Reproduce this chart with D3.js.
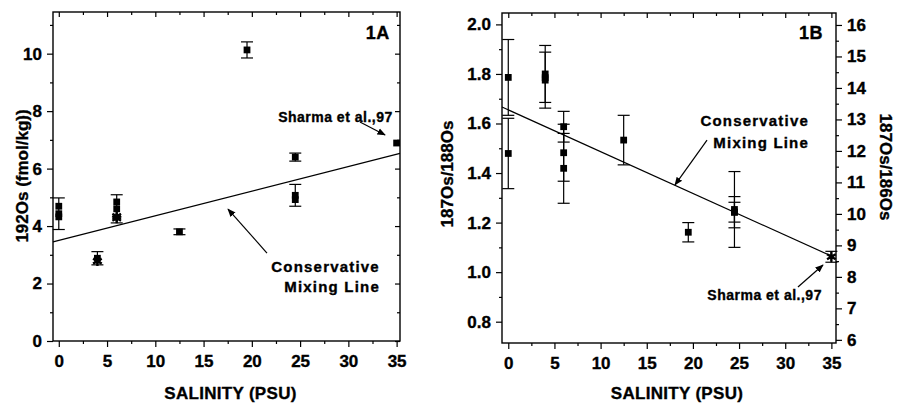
<!DOCTYPE html>
<html><head><meta charset="utf-8">
<script src="https://cdn.jsdelivr.net/npm/d3@7"></script>
<style>
body{margin:0;background:#fff;}
text{font-family:"Liberation Sans",Arial,sans-serif;font-weight:bold;fill:#000;stroke:#000;stroke-width:0.35px;}
</style></head>
<body><svg id="c" width="898" height="404"></svg>
<script>
// ---------- DATA ----------
// Panel 1A: 192Os (fmol/kg) vs salinity
const salinityA = [0, 0, 0, 4, 4, 6, 6, 6, 6, 12.5, 19.5, 24.5, 24.5, 24.5, 35];
const os192A    = [4.69, 4.43, 4.32, 2.88, 2.78, 4.84, 4.6, 4.34, 4.27, 3.8, 10.13, 6.4, 5.07, 4.92, 6.89];
const errA      = [0, 0.55, 0, 0.23, 0, 0, 0.49, 0, 0, 0.1, 0.28, 0.14, 0.38, 0, 0];
const shapeA    = ["sq","sq","sq","sq","st","sq","sq","st","st","sq","sq","sq","sq","sq","sq"];
const mixLineA  = [[0, 3.5], [35, 6.5]];

// Panel 1B: 187Os/188Os vs salinity
const salinityB = [0, 0, 4, 4, 4, 6, 6, 6, 12.5, 19.5, 24.5, 24.5, 24.5, 35];
const ratioB    = [1.786, 1.479, 1.80, 1.785, 1.775, 1.587, 1.482, 1.419, 1.533, 1.161, 1.253, 1.242, 1.242, 1.062];
const errB      = [0.153, 0.142, 0.115, 0, 0.113, 0.062, 0.115, 0.141, 0.1, 0.039, 0.153, 0.063, 0.04, 0.022];
const shapeB    = ["sq","sq","sq","sq","sq","sq","sq","sq","sq","sq","sq","sq","sq","st"];
const mixLineB  = [[0, 1.655], [35, 1.065]];

// Tick values
const xTicks = [0, 5, 10, 15, 20, 25, 30, 35];
const yTicksA = [0, 2, 4, 6, 8, 10];
const yTicksB = [0.8, 1.0, 1.2, 1.4, 1.6, 1.8, 2.0];
const yTicksB2 = [6, 7, 8, 9, 10, 11, 12, 13, 14, 15, 16];

// ---------- DRAW ----------
const svg = d3.select("#c");

function frameAxes(g, x, y, opts){
  const [x0,x1]=x.range(), [y0,y1]=y.range();
  const xMinor = xTicks.map(v=>v+2.5).filter(v=>v<x.domain()[1]);
  g.append("g").attr("transform",`translate(0,${y0})`)
    .call(d3.axisBottom(x).tickValues(xTicks).tickSize(6).tickPadding(8).tickFormat(d3.format("d")))
    .call(a=>a.select(".domain").remove());
  g.append("g").attr("transform",`translate(0,${y0})`)
    .call(d3.axisBottom(x).tickValues(xMinor).tickSize(3).tickFormat(""))
    .call(a=>a.select(".domain").remove());
  g.append("g").attr("transform",`translate(0,${y1})`)
    .call(d3.axisTop(x).tickValues(xTicks).tickSize(-5).tickFormat(""))
    .call(a=>a.select(".domain").remove());
  g.append("g").attr("transform",`translate(0,${y1})`)
    .call(d3.axisTop(x).tickValues(xMinor).tickSize(-3).tickFormat(""))
    .call(a=>a.select(".domain").remove());
  g.append("g").attr("transform",`translate(${x0},0)`)
    .call(d3.axisLeft(y).tickValues(opts.yTicks).tickSize(6).tickPadding(5).tickFormat(opts.yFmt))
    .call(a=>a.select(".domain").remove());
  g.append("g").attr("transform",`translate(${x0},0)`)
    .call(d3.axisLeft(y).tickValues(opts.yMinor).tickSize(3).tickFormat(""))
    .call(a=>a.select(".domain").remove());
  if(opts.y2){
    g.append("g").attr("transform",`translate(${x1},0)`)
      .call(d3.axisRight(opts.y2).tickValues(yTicksB2).tickSize(6).tickPadding(5).tickFormat(d3.format("d")))
      .call(a=>a.select(".domain").remove());
    g.append("g").attr("transform",`translate(${x1},0)`)
      .call(d3.axisRight(opts.y2).tickValues(yTicksB2.map(v=>v+0.5).filter(v=>v<16.3)).tickSize(3).tickFormat(""))
      .call(a=>a.select(".domain").remove());
  } else {
    g.append("g").attr("transform",`translate(${x1},0)`)
      .call(d3.axisRight(y).tickValues(opts.yTicks).tickSize(-5).tickFormat(""))
      .call(a=>a.select(".domain").remove());
    g.append("g").attr("transform",`translate(${x1},0)`)
      .call(d3.axisRight(y).tickValues(opts.yMinor).tickSize(-3).tickFormat(""))
      .call(a=>a.select(".domain").remove());
  }
  g.selectAll(".tick line").attr("stroke","#000").attr("stroke-width",1.2);
  g.selectAll(".tick text").attr("font-size",17).attr("font-family",'"Liberation Sans",Arial,sans-serif').attr("font-weight","bold");
  g.append("rect").attr("x",x0).attr("y",y1).attr("width",x1-x0).attr("height",y0-y1)
    .attr("fill","none").attr("stroke","#000").attr("stroke-width",1.4);
}

function drawPoints(g, x, y, xs, ys, es, shapes){
  const cap=6;
  xs.forEach((xv,i)=>{
    const e=es[i];
    if(e>0){
      const px=x(xv), t=y(ys[i]+e), b=y(ys[i]-e);
      g.append("line").attr("x1",px).attr("x2",px).attr("y1",t).attr("y2",b).attr("stroke","#000").attr("stroke-width",1.2);
      [t,b].forEach(py=>g.append("line").attr("x1",px-cap).attr("x2",px+cap).attr("y1",py).attr("y2",py).attr("stroke","#000").attr("stroke-width",1.2));
    }
  });
  xs.forEach((xv,i)=>{
    const p = g.append("path").attr("transform",`translate(${x(xv)},${y(ys[i])})`);
    if(shapes[i]==="sq") p.attr("d",d3.symbol(d3.symbolSquare,46)()).attr("fill","#000");
    else p.attr("d",d3.symbol(d3.symbolAsterisk,70)()).attr("fill","none").attr("stroke","#000").attr("stroke-width",2.4);
  });
}

function drawMix(g, x, y, pts, xEnd){
  const [[a,b],[c,d]]=pts; const slope=(d-b)/(c-a);
  const xs=[x.domain()[0], xEnd];
  g.append("line").attr("x1",x(xs[0])).attr("y1",y(b+slope*(xs[0]-a)))
    .attr("x2",x(xs[1])).attr("y2",y(b+slope*(xs[1]-a)))
    .attr("stroke","#000").attr("stroke-width",1.2);
}

svg.append("defs").append("marker").attr("id","ah").attr("viewBox","0 0 10 10").attr("refX",9).attr("refY",5)
  .attr("markerWidth",7).attr("markerHeight",7).attr("orient","auto-start-reverse")
  .append("path").attr("d","M0,1 L10,5 L0,9 Z").attr("fill","#000");

function arrow(g,x,y,p0,p1){
  g.append("line").attr("x1",x(p0[0])).attr("y1",y(p0[1])).attr("x2",x(p1[0])).attr("y2",y(p1[1]))
    .attr("stroke","#000").attr("stroke-width",1.2).attr("marker-end","url(#ah)");
}
function label(g,px,py,txt,size,anchor,ls){
  g.append("text").attr("x",px).attr("y",py).attr("text-anchor",anchor).attr("dominant-baseline","central")
    .attr("font-size",size).attr("letter-spacing",ls||0).text(txt);
}

// Panel A
const xA = d3.scaleLinear().domain([-0.6, 35.35]).range([53, 400]);
const yA = d3.scaleLinear().domain([0, 11.45]).range([341, 12]);
const gA = svg.append("g");
drawMix(gA, xA, yA, mixLineA, 35.35);
drawPoints(gA, xA, yA, salinityA, os192A, errA, shapeA);
frameAxes(gA, xA, yA, {yTicks:yTicksA, yMinor:yTicksA.map(v=>v+1), yFmt:d3.format("d")});
label(gA, xA(34.3), yA(10.72), "1A", 18, "end", 0.5);
label(gA, xA(34.6), yA(7.8), "Sharma et al.,97", 14, "end", 0.5);
arrow(gA, xA, yA, [31.2, 7.62], [33.8, 7.17]);
label(gA, xA(33.27), yA(2.58), "Conservative", 15, "end", 1.2);
label(gA, xA(33.27), yA(1.88), "Mixing Line", 15, "end", 1.2);
arrow(gA, xA, yA, [21.57, 3.06], [17.53, 4.59]);
gA.append("text").attr("x",(53+400)/2+4).attr("y",393).attr("text-anchor","middle").attr("dominant-baseline","central")
  .attr("font-size",17).attr("letter-spacing",0.3).text("SALINITY (PSU)");
gA.append("text").attr("transform","translate(22,176) rotate(-90)").attr("text-anchor","middle").attr("dominant-baseline","central")
  .attr("font-size",17).text("192Os (fmol/kg))");

// Panel B
const xB = d3.scaleLinear().domain([-0.68, 35.5]).range([502, 836]);
const yB = d3.scaleLinear().domain([0.714, 2.046]).range([343, 13]);
const yB2 = d3.scaleLinear().domain([5.9, 16.38]).range([343, 13]);
const gB = svg.append("g");
drawMix(gB, xB, yB, mixLineB, 35);
drawPoints(gB, xB, yB, salinityB, ratioB, errB, shapeB);
frameAxes(gB, xB, yB, {yTicks:yTicksB, yMinor:yTicksB.map(v=>v+0.1).filter(v=>v<2.04), yFmt:d3.format(".1f"), y2:yB2});
label(gB, xB(34.09), yB(1.965), "1B", 18, "end", 0.5);
label(gB, xB(32.58), yB(1.614), "Conservative", 15, "end", 1.2);
label(gB, xB(32.58), yB(1.525), "Mixing Line", 15, "end", 1.2);
arrow(gB, xB, yB, [21.53, 1.533], [18.06, 1.352]);
label(gB, xB(33.98), yB(0.908), "Sharma et al.,97", 14, "end", 0.5);
arrow(gB, xB, yB, [31.38, 0.940], [34.09, 1.029]);
gB.append("text").attr("x",(502+836)/2+8).attr("y",393).attr("text-anchor","middle").attr("dominant-baseline","central")
  .attr("font-size",17).attr("letter-spacing",0.3).text("SALINITY (PSU)");
gB.append("text").attr("transform","translate(447,174) rotate(-90)").attr("text-anchor","middle").attr("dominant-baseline","central")
  .attr("font-size",17).text("187Os/188Os");
gB.append("text").attr("transform","translate(885,167) rotate(90)").attr("text-anchor","middle").attr("dominant-baseline","central")
  .attr("font-size",17).text("187Os/186Os");
</script></body></html>
